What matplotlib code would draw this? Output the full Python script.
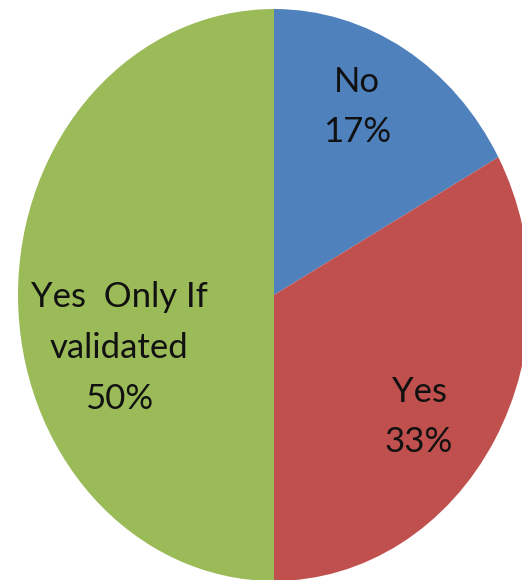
import matplotlib.pyplot as plt

answers = ['No', 'Yes', 'Yes  Only If\nvalidated']
shares = [17, 33, 50]
colors = ['#4F81BD', '#C0504D', '#9BBB59']

# label centres in pixel coordinates of the 522x580 canvas
label_px = [(357, 107), (419, 417), (119, 348)]

W, H = 522, 580
cx, cy = 274, 295      # pie centre (px)
rx, ry = 256, 286      # pie is drawn slightly taller than wide

fig = plt.figure(figsize=(W / 100, H / 100), dpi=100)
ax = fig.add_axes([0, 0, 1, 1])

ax.pie(shares, colors=colors, startangle=90, counterclock=False,
       radius=1, center=(0, 0), wedgeprops=dict(linewidth=0))
ax.set_aspect('auto')
ax.set_xlim(-cx / rx, (W - cx) / rx)
ax.set_ylim(-(H - cy) / ry, cy / ry)
ax.axis('off')

for name, v, (px, py) in zip(answers, shares, label_px):
    x = (px - cx) / rx
    y = (cy - py) / ry
    ax.text(x, y, f'{name}\n{v}%', ha='center', va='center',
            fontsize=25, family='Lato', color='#111111', linespacing=1.72)

fig.savefig('out.png', dpi=100)
